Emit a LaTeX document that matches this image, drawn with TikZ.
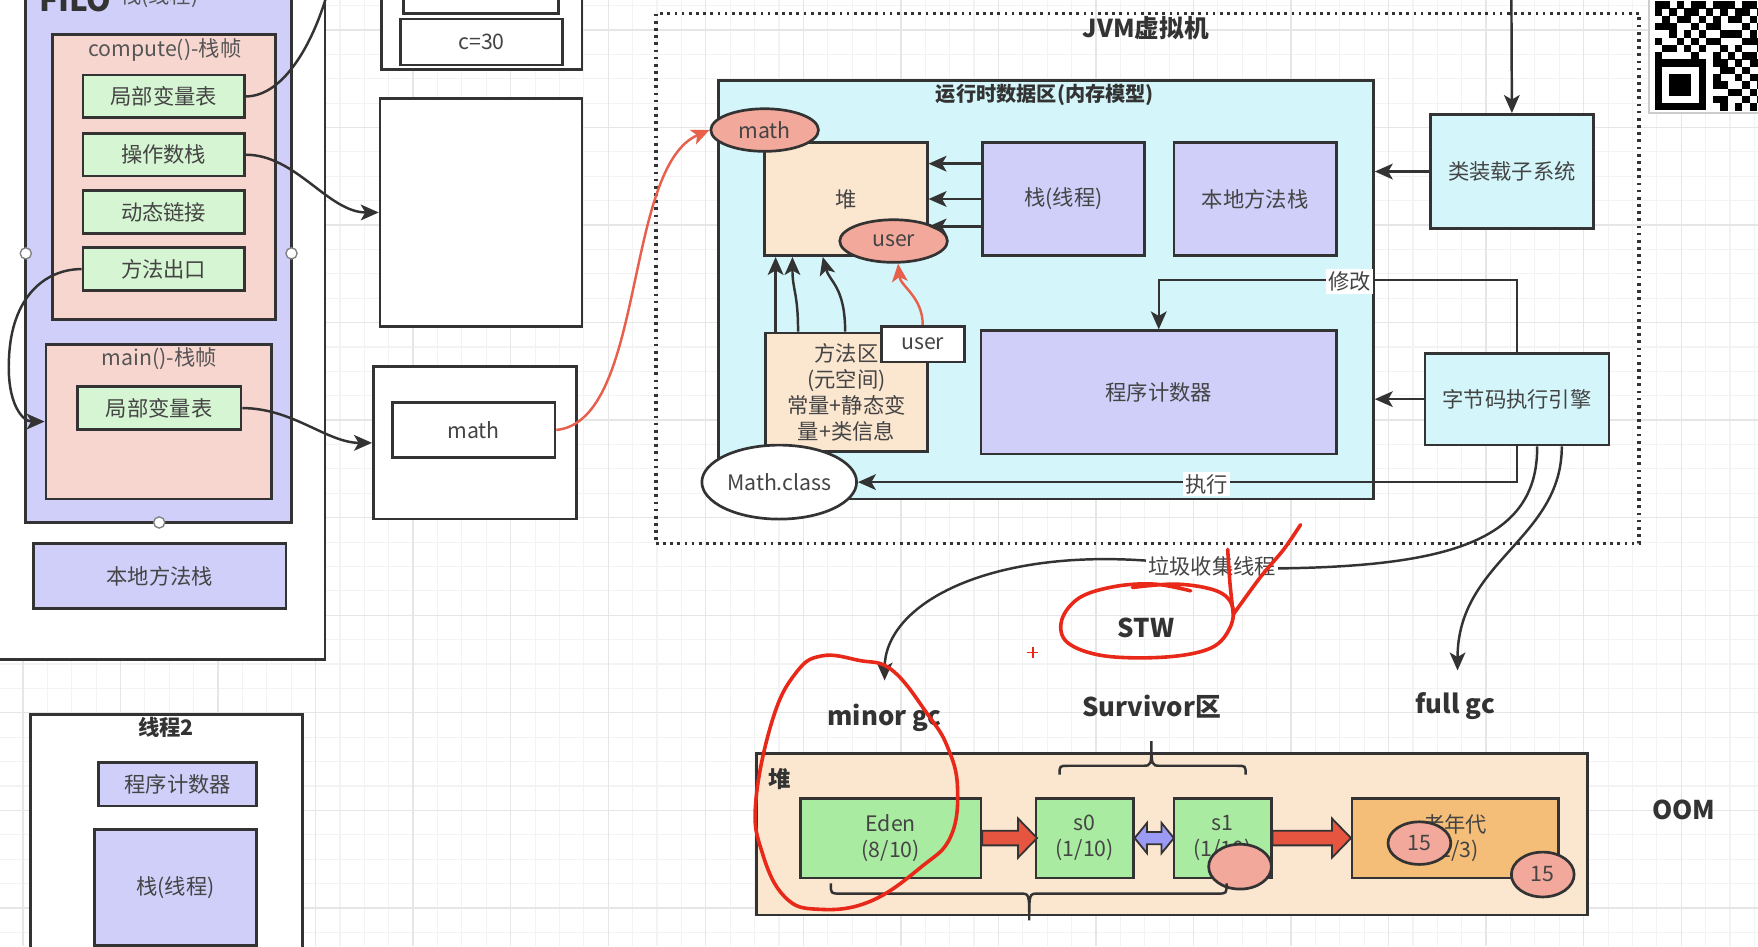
\documentclass[tikz,border=0pt]{standalone}
\usepackage{fontspec}
\setmainfont{Noto Sans CJK SC}
\usetikzlibrary{shapes.geometric,arrows.meta}
\definecolor{bd}{RGB}{51,51,51}
\definecolor{txt}{RGB}{68,68,68}
\definecolor{ttlc}{RGB}{85,85,85}
\definecolor{lav}{RGB}{207,207,250}
\definecolor{pinkf}{RGB}{248,214,208}
\definecolor{grnf}{RGB}{214,245,210}
\definecolor{cyanf}{RGB}{212,246,250}
\definecolor{peach}{RGB}{251,230,208}
\definecolor{salmon}{RGB}{242,168,155}
\definecolor{edenc}{RGB}{170,235,162}
\definecolor{orng}{RGB}{244,190,120}
\definecolor{redc}{RGB}{229,85,63}
\definecolor{redl}{RGB}{232,96,76}
\definecolor{handred}{RGB}{232,40,25}
\definecolor{bluea}{RGB}{155,155,245}
\definecolor{gmin}{RGB}{243,243,243}
\definecolor{gmaj}{RGB}{230,230,230}
\newcommand\fsz{\fontsize{9.5}{11.5}\selectfont}
\newcommand\fbt{\bfseries\fontsize{11.5}{14}\selectfont}
\newcommand\mybox[7]{%
  \pgfmathsetmacro\bcx{(#2+#4)/2}%
  \pgfmathsetmacro\bcy{(#3+#5)/2}%
  \pgfmathsetmacro\bw{(#4-#2)*0.5}%
  \pgfmathsetmacro\bh{(#5-#3)*0.5}%
  \node[bx,#6,minimum width=\bw pt,minimum height=\bh pt] (#1) at (\bcx,\bcy) {#7};}
\tikzset{
  bx/.style={draw=bd, line width=1.2pt, text=txt, font=\fsz, align=center, inner sep=0pt},
  ell/.style={ellipse, draw=bd, line width=1.2pt, text=txt, font=\fsz, inner sep=0pt},
  conn/.style={draw=bd, line width=1.1pt, -{Stealth[length=8pt,width=7pt,inset=2pt]}},
  plainln/.style={draw=bd, line width=1.1pt},
  rconn/.style={draw=redl, line width=1.1pt, -{Stealth[length=8pt,width=7pt,inset=2pt]}},
  lbl/.style={fill=white, text=txt, font=\fsz, inner sep=1pt},
  ttl/.style={text=ttlc, font=\fsz},
  bigt/.style={text=bd, font=\fbt},
  hand/.style={draw=handred, line width=1.6pt, line cap=round, line join=round},
  handle/.style={circle, draw=gray, fill=white, minimum size=5pt, inner sep=0pt, line width=0.6pt},
  blk/.style={draw=bd, line width=0.8pt, line join=miter},
}
\begin{document}
\begin{tikzpicture}[x=0.5pt,y=-0.5pt]
\useasboundingbox (0,0) rectangle (1568,844);
\clip (0,0) rectangle (1568,844);
\fill[white] (0,0) rectangle (1568,844);
% grid
\foreach \i in {0,...,72} \draw[gmin, line width=0.5pt] ({-1.25+\i*21.75},0) -- ++(0,844);
\foreach \i in {0,...,39} \draw[gmin, line width=0.5pt] (0,{5+\i*21.75}) -- ++(1568,0);
\foreach \i in {0,...,18} \draw[gmaj, line width=0.6pt] ({20.5+\i*87},0) -- ++(0,844);
\foreach \i in {0,...,9} \draw[gmaj, line width=0.6pt] (0,{26.75+\i*87}) -- ++(1568,0);

% ---------- thread 1 (left) ----------
\mybox{thr1}{-10}{-10}{290}{588}{fill=white}{}
\mybox{stk}{23}{-10}{260}{466}{fill=lav}{}
\node[anchor=base, text=bd, font=\bfseries\fontsize{14}{16}\selectfont] (filo) at (67,10) {FILO};
\node[anchor=base, ttl] (stkt) at (142,3) {栈(线程)};
\mybox{cf}{47}{31}{246}{285}{fill=pinkf}{}
\node[ttl] (cft) at (147,45) {compute()-栈帧};
\mybox{lv1}{74}{67}{218}{105}{fill=grnf}{局部变量表}
\mybox{ops}{74}{119}{218}{157}{fill=grnf}{操作数栈}
\mybox{dyn}{74}{170}{218}{208}{fill=grnf}{动态链接}
\mybox{ret}{74}{221}{218}{259}{fill=grnf}{方法出口}
\mybox{mf}{41}{307}{242}{445}{fill=pinkf}{}
\node[ttl] (mft) at (142,320) {main()-栈帧};
\mybox{lv2}{69}{345}{215}{383}{fill=grnf}{局部变量表}
\mybox{nms1}{30}{485}{255}{543}{fill=lav}{本地方法栈}
\node[handle] (hd1) at (23,226) {};
\node[handle] (hd2) at (260,226) {};
\node[handle] (hd3) at (142,466) {};

% ---------- middle heap objects ----------
\mybox{tb0}{340}{-10}{519}{62}{fill=white}{}
\mybox{tb1}{360}{-10}{498}{12}{fill=white}{}
\mybox{c30}{357}{17}{502}{58}{fill=white}{c=30}
\mybox{obj}{339}{88}{519}{291}{fill=white}{}
\mybox{mfr}{333}{327}{514}{463}{fill=white}{}
\mybox{mref}{350}{359}{495}{408}{fill=white}{math}

% ---------- thread 2 ----------
\mybox{thr2}{27}{637}{270}{860}{fill=white}{}
\node[text=bd, font=\bfseries\fontsize{9.5}{11.5}\selectfont] (thr2t) at (148,649) {线程2};
\mybox{pc2}{88}{680}{229}{719}{fill=lav}{程序计数器}
\mybox{stk3}{84}{740}{229}{843}{fill=lav}{栈(线程)}

% ---------- JVM ----------
\mybox{jvm}{585}{12}{1462}{485}{draw=bd, dotted, line width=1.5pt}{}
\node[text=bd, font=\bfseries\fontsize{11}{13}\selectfont] (jvmt) at (1022,25) {JVM虚拟机};
\mybox{rt}{641}{72}{1225}{445}{fill=cyanf}{}
\node[text=bd, font=\bfseries\fontsize{9}{11}\selectfont] (rtt) at (932,85) {运行时数据区(内存模型)};
\mybox{heap}{682}{127}{827}{228}{fill=peach}{堆}
\mybox{stk2}{876}{127}{1021}{228}{fill=lav}{栈(线程)}
\mybox{nms2}{1047}{127}{1192}{228}{fill=lav}{本地方法栈}
\mybox{meth}{683}{297}{827}{403}{fill=peach}{方法区\\(元空间)\\常量+静态变\\量+类信息}
\mybox{pc}{875}{295}{1192}{405}{fill=lav}{程序计数器}
\mybox{cls}{1276}{102}{1421}{204}{fill=cyanf}{类装载子系统}
\mybox{eng}{1271}{315}{1435}{397}{fill=cyanf}{字节码执行引擎}
\node[ell, fill=salmon, minimum width=48pt, minimum height=19pt] (mathE) at (682,116) {math};
\node[ell, fill=salmon, minimum width=48pt, minimum height=19pt] (userE) at (797,215) {user};
\mybox{userB}{786}{291}{860}{323}{fill=white}{user}
\node[ell, fill=white, minimum width=69pt, minimum height=33pt] (mc) at (695,430) {Math.class};

% stack -> heap
\draw[conn] ([yshift=15.75pt]stk2.west) -- ([yshift=15.75pt]heap.east);
\draw[conn] (stk2.west) -- (heap.east);
\draw[conn] ([yshift=-12.25pt]stk2.west) -- ([yshift=-12.25pt]heap.east);
% method area -> heap
\draw[conn] ([xshift=5pt]meth.north west) -- ([xshift=5.5pt]heap.south west);
\draw[conn] ([xshift=15pt]meth.north west) .. controls +(0,-35) and +(0,30) .. ([xshift=13pt]heap.south west);
\draw[conn] ([xshift=36pt]meth.north west) .. controls +(0,-40) and +(6,22) .. ([xshift=26.5pt]heap.south west);
\draw[rconn] (userB.north) .. controls +(0,-25) and +(2,20) .. ([xshift=2pt]userE.south);

% right side
\coordinate (clsin) at (1348,-10);
\draw[conn] (clsin) -- (cls.north);
\draw[conn] (cls.west) -- (cls.west -| rt.east);
\draw[conn] (eng.west) -- (eng.west -| rt.east);
\draw[conn] (eng.north) -- ++(0,-64) -| (pc.north);
\node[lbl] (xg) at (1204,251) {修改};
\draw[conn] (eng.south) |- (mc.east);
\node[lbl] (zx) at (1076,432) {执行};

% left connectors
\coordinate (lv1top) at (293,-10);
\draw[plainln] (lv1.east) .. controls +(35,0) and +(-12,45) .. (lv1top);
\draw[conn] (ops.east) .. controls +(45,0) and +(-45,0) .. (obj.west);
\draw[conn] (lv2.east) .. controls +(45,0) and +(-40,0) .. (mfr.west);
\draw[conn] (ret.west) .. controls (40,240) and (10,265) .. (8,320) .. controls (6,360) and (20,376) .. (mf.west);
\draw[rconn] (mref.east) .. controls +(80,-8) and +(-77,33) .. (mathE.west);

% GC connectors
\coordinate (gcR) at (1140,507);
\coordinate (gcL) at (1022,500);
\coordinate (mgcA) at (789,607);
\coordinate (fgcA) at (1300,598);
\draw[conn] ([xshift=9pt]eng.south) .. controls +(1,85) and +(150,-2) .. (gcR) -- (gcL) .. controls +(-142,-10) and +(0,-68) .. (mgcA);
\node[lbl] (gct) at (1081,505) {垃圾收集线程};
\draw[conn] ([xshift=20pt]eng.south) .. controls +(0,83) and +(0,-98) .. (fgcA);

% ---------- bottom heap ----------
\node[bigt] (mgc) at (789,640) {minor gc};
\node[bigt] (surv) at (1027,630) {Survivor区};
\node[bigt] (fgc) at (1298,630) {full gc};
\node[bigt] (oom) at (1502,722) {OOM};
\node[bigt] (stw) at (1022,560) {STW};
\mybox{hp}{675}{672}{1416}{816}{fill=peach}{}
\node[text=bd, font=\bfseries\fontsize{10}{12}\selectfont] (hpt) at (695,695) {堆};
\mybox{eden}{714}{712}{875}{783}{fill=edenc}{Eden\\(8/10)}
\mybox{s0}{924}{712}{1011}{783}{fill=edenc}{s0\\(1/10)}
\mybox{s1}{1047}{712}{1134}{783}{fill=edenc}{s1\\(1/10)}
\mybox{old}{1206}{712}{1390}{783}{fill=orng}{老年代\\(2/3)}
\draw[blk, fill=redc] (876,741) -- (908,741) -- (908,730) -- (925,747.5) -- (908,765) -- (908,754) -- (876,754) -- cycle;
\draw[blk, fill=redc] (1135,741) -- (1188,741) -- (1188,730) -- (1205,747.5) -- (1188,765) -- (1188,754) -- (1135,754) -- cycle;
\draw[blk, fill=bluea] (1012,747.5) -- (1023,734) -- (1023,742) -- (1036,742) -- (1036,734) -- (1047,747.5) -- (1036,761) -- (1036,753) -- (1023,753) -- (1023,761) -- cycle;
\node[ell, fill=salmon, minimum width=28pt, minimum height=20pt] (cb0) at (1106,773) {};
\node[ell, fill=salmon, minimum width=28pt, minimum height=19pt] (cb1) at (1266,752) {15};
\node[ell, fill=salmon, minimum width=28pt, minimum height=20pt] (cb2) at (1376,780) {15};
% braces
\draw[bd, line width=1.1pt] (945,691) .. controls (945,683) .. (953,683) -- (1019,683) .. controls (1027,683) .. (1027,661) .. controls (1027,683) .. (1035,683) -- (1103,683) .. controls (1111,683) .. (1111,691);
\draw[bd, line width=1.1pt] (741,788) .. controls (741,797) .. (749,797) -- (910,797) .. controls (918,797) .. (918,821) .. controls (918,797) .. (926,797) -- (1086,797) .. controls (1094,797) .. (1094,788);

% ---------- QR code ----------
\fill[white] (1471,-5) rectangle (1575,101);
\draw[gray!40, line width=1pt] (1471,-5) -- (1471,101) -- (1575,101);
\foreach \c/\r in {0/0,1/0,3/0,5/0,6/0,8/0,9/0,10/0,12/0,13/0,
  0/1,2/1,4/1,5/1,7/1,9/1,11/1,12/1,14/1,
  1/2,3/2,4/2,6/2,8/2,10/2,11/2,13/2,
  0/3,1/3,2/3,5/3,7/3,8/3,12/3,14/3,
  2/4,4/4,6/4,9/4,10/4,11/4,13/4,
  0/5,3/5,5/5,7/5,8/5,12/5,13/5,14/5,
  1/6,2/6,4/6,6/6,9/6,11/6,14/6,
  0/7,5/7,8/7,10/7,12/7,13/7,
  8/8,9/8,11/8,13/8,14/8, 9/9,10/9,12/9, 8/10,11/10,13/10,14/10,
  8/11,9/11,12/11,14/11, 10/12,11/12,13/12, 8/13,9/13,12/13,14/13, 9/14,11/14,13/14}
  \fill[black] ({1476+\c*6.5},{1+\r*6.5}) rectangle ++(6.6,6.6);
\fill[black] (1476,53) rectangle (1521.5,98.5);
\fill[white] (1482.5,59.5) rectangle (1515,92);
\fill[black] (1489,66) rectangle (1508.5,85.5);

% ---------- hand drawn red marks ----------
\draw[hand] plot[smooth cycle, tension=0.7] coordinates {(733,585) (766,589) (796,598) (828,638) (845,666) (854,702) (848,746) (822,773) (776,804) (730,811) (700,800) (680,761) (674,716) (689,642) (710,600)};
\draw[hand] plot[smooth, tension=0.6] coordinates {(1062,527) (1030,521) (995,523) (963,533) (947,553) (952,573) (985,585) (1040,586) (1080,578) (1097,560) (1099,540) (1085,527) (1050,521) (1010,524)};
\draw[hand] plot[smooth] coordinates {(1095,490) (1097,520) (1100,548)};
\draw[hand] plot[smooth] coordinates {(1100,548) (1124,515) (1145,490) (1160,468)};
\draw[handred, line width=0.8pt] (916,582) -- (926,582) (921,577) -- (921,587);
\end{tikzpicture}
\end{document}
